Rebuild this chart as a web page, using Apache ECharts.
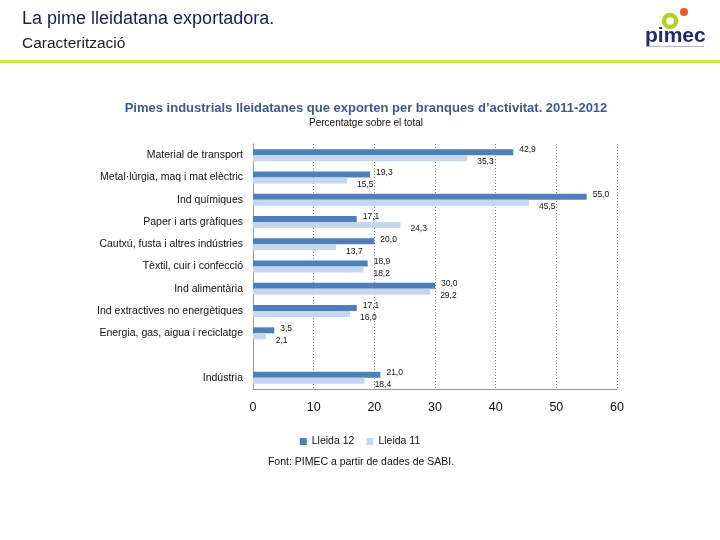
<!DOCTYPE html>
<html>
<head>
<meta charset="utf-8">
<script src="https://cdn.jsdelivr.net/npm/echarts@6/dist/echarts.min.js"></script>
<style>
html,body{margin:0;padding:0;background:#fff;}
#main{width:720px;height:540px;}
</style>
</head>
<body>
<div id="main"></div>
<script>
const categories = [
  'Material de transport',
  'Metal·lúrgia, maq i mat elèctric',
  'Ind químiques',
  'Paper i arts gràfiques',
  'Cautxú, fusta i altres indústries',
  'Tèxtil, cuir i confecció',
  'Ind alimentària',
  'Ind extractives no energètiques',
  'Energia, gas, aigua i reciclatge',
  '',
  'Indústria'
];
const lleida12 = [42.9, 19.3, 55.0, 17.1, 20.0, 18.9, 30.0, 17.1, 3.5, null, 21.0];
const lleida11 = [35.3, 15.5, 45.5, 24.3, 13.7, 18.2, 29.2, 16.0, 2.1, null, 18.4];
const xTicks = [0, 10, 20, 30, 40, 50, 60];

const chart = echarts.init(document.getElementById('main'));
const fmt = p => p.value == null ? '' : p.value.toFixed(1).replace('.', ',');
const font = 'Liberation Sans, Arial, sans-serif';

chart.setOption({
  animation: false,
  textStyle: { fontFamily: font },
  title: [
    { text: 'Pimes industrials lleidatanes que exporten per branques d\u2019activitat. 2011-2012',
      left: 361, top: 97, textAlign: 'center',
      textStyle: { fontSize: 13, fontWeight: 'bold', color: '#3b5b8a', fontFamily: font } },
    { text: 'Percentatge sobre el total', left: 361, top: 113, textAlign: 'center',
      textStyle: { fontSize: 10, fontWeight: 'normal', color: '#111', fontFamily: font } }
  ],
  legend: {
    data: ['Lleida 12', 'Lleida 11'],
    left: 'center', top: 431, itemWidth: 7, itemHeight: 7, itemGap: 12,
    icon: 'rect',
    textStyle: { fontSize: 10.5, color: '#111', fontFamily: font }
  },
  grid: { left: 253, right: 103, top: 144, bottom: 151, containLabel: false },
  xAxis: {
    type: 'value', min: 0, max: 60, interval: 10,
    axisLine: { show: true, lineStyle: { color: '#999' } },
    axisTick: { show: false },
    axisLabel: { fontSize: 12.5, color: '#111', margin: 12,
      formatter: v => xTicks.includes(v) ? String(v) : '' },
    splitLine: { show: true, lineStyle: { color: '#888', type: [1, 2], width: 1 } }
  },
  yAxis: {
    type: 'category', data: categories, inverse: true,
    axisLine: { show: true, lineStyle: { color: '#999' } },
    axisTick: { show: false },
    axisLabel: { fontSize: 10.5, color: '#111', margin: 10 }
  },
  series: [
    { name: 'Lleida 12', type: 'bar', data: lleida12, barWidth: 6, barGap: '0%',
      itemStyle: { color: '#4f7fbb' },
      label: { show: true, position: 'right', distance: 6, offset: [0, -2],
        fontSize: 8.5, color: '#111', formatter: fmt } },
    { name: 'Lleida 11', type: 'bar', data: lleida11, barWidth: 6,
      itemStyle: { color: '#c5d7ef' },
      label: { show: true, position: 'right', distance: 10, offset: [0, 4],
        fontSize: 8.5, color: '#111', formatter: fmt } }
  ],
  graphic: [
    { type: 'text', left: 22, top: 10,
      style: { text: 'La pime lleidatana exportadora.', fill: '#141c5c', font: '18px ' + font } },
    { type: 'text', left: 22, top: 36,
      style: { text: 'Caracterització', fill: '#222', font: '15.5px ' + font } },
    { type: 'rect', shape: { x: 0, y: 60, width: 720, height: 3 }, style: { fill: '#d4e54a' } },
    { type: 'circle', shape: { cx: 670, cy: 21, r: 6 }, style: { fill: 'none', stroke: '#b8cf2a', lineWidth: 4.5 } },
    { type: 'circle', shape: { cx: 684, cy: 12, r: 4 }, style: { fill: '#ea5a2a' } },
    { type: 'text', left: 645, top: 26,
      style: { text: 'pimec', fill: '#1d2a6e', font: 'bold 21px ' + font } },
    { type: 'rect', shape: { x: 646, y: 46, width: 58, height: 1 }, style: { fill: '#b0b6cc' } },
    { type: 'text',
      style: { x: 361, y: 457, text: 'Font: PIMEC a partir de dades de SABI.', fill: '#111', font: '10.5px ' + font, textAlign: 'center' } }
  ]
});
</script>
</body>
</html>
